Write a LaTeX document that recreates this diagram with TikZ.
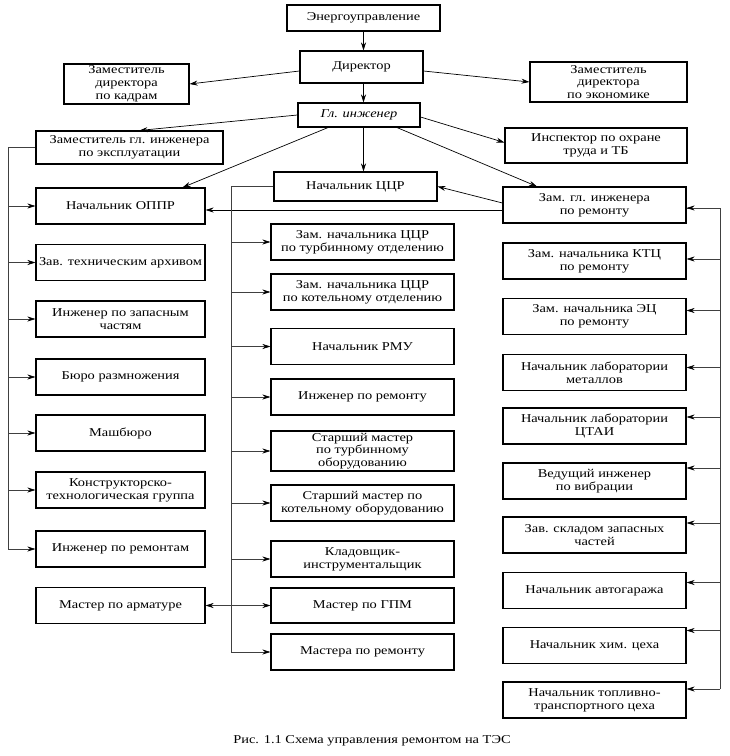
\documentclass[tikz,border=0pt]{standalone}
\usepackage{fontspec}
\setmainfont{Liberation Serif}[FakeStretch=1.2]
\usetikzlibrary{arrows.meta,calc}
\begin{document}
\begin{tikzpicture}[x=1pt,y=-1pt,
  box/.style={draw,line width=1.1pt,inner sep=1pt,align=center,
    font=\fontsize{12}{12.8}\selectfont},
  arr/.style={line width=0.7pt,-{Stealth[length=8pt,width=5pt]}},
  bus/.style={line width=0.6pt,black!75},
  barr/.style={line width=0.6pt,black!75,-{Stealth[length=8pt,width=5pt,black]}}]
\useasboundingbox[fill=white] (0,0) rectangle (730,756);
% top
\node[box,minimum width=153pt,minimum height=26pt] (eu) at (363.5,18) {Энергоуправление};
\node[box,minimum width=123pt,minimum height=32pt] (dir) at (361.5,67) {Директор};
\node[box,minimum width=125pt,minimum height=40pt] (zdk) at (126.5,84) {Заместитель\\директора\\по кадрам};
\node[box,minimum width=157pt,minimum height=40pt] (zde) at (608.5,82) {Заместитель\\директора\\по экономике};
\node[box,minimum width=122pt,minimum height=24pt] (gi) at (359,115) {\itshape Гл. инженер};
\node[box,minimum width=187pt,minimum height=33pt] (zge) at (129.5,147.5) {Заместитель гл. инженера\\по эксплуатации};
\node[box,minimum width=182pt,minimum height=35pt] (insp) at (596,145.5) {Инспектор по охране\\труда и ТБ};
\node[box,minimum width=163pt,minimum height=29pt] (ccr) at (355.5,186.5) {Начальник ЦЦР};
\node[box,minimum width=183pt,minimum height=36pt] (zgr) at (594.5,205) {Зам. гл. инженера\\по ремонту};
% left column
\begin{scope}[every node/.append style={box,minimum width=169pt,minimum height=36pt}]
\node (oppr) at (120.5,206) {Начальник ОППР};
\node (arch) at (120.5,262.5) {Зав. техническим архивом};
\node (zap) at (120.5,319) {Инженер по запасным\\частям};
\node (bur) at (120.5,377) {Бюро размножения};
\node (mash) at (120.5,433) {Машбюро};
\node (kon) at (120.5,490) {Конструкторско-\\технологическая группа};
\node (ir) at (120.5,549) {Инженер по ремонтам};
\node (arm) at (120.5,605.5) {Мастер по арматуре};
\end{scope}
% middle column
\begin{scope}[every node/.append style={box,minimum width=183pt,minimum height=36pt}]
\node (t1) at (362.5,242) {Зам. начальника ЦЦР\\по турбинному отделению};
\node (t2) at (362.5,292) {Зам. начальника ЦЦР\\по котельному отделению};
\node (rmu) at (362.5,346.5) {Начальник РМУ};
\node (ipr) at (362.5,397) {Инженер по ремонту};
\node[minimum height=40pt,font=\fontsize{12}{12.2}\selectfont] (smt) at (362.5,451) {Старший мастер\\по турбинному\\оборудованию};
\node (smk) at (362.5,503) {Старший мастер по\\котельному оборудованию};
\node (klad) at (362.5,559) {Кладовщик-\\инструментальщик};
\node[minimum height=35pt] (gpm) at (362.5,605.5) {Мастер по ГПМ};
\node (mr) at (362.5,652) {Мастера по ремонту};
\end{scope}
% right column
\begin{scope}[every node/.append style={box,minimum width=183pt,minimum height=36pt}]
\node (ktc) at (594.5,261) {Зам. начальника КТЦ\\по ремонту};
\node (ec) at (594.5,316.5) {Зам. начальника ЭЦ\\по ремонту};
\node (lm) at (594.5,372.5) {Начальник лаборатории\\металлов};
\node (ctai) at (594.5,426) {Начальник лаборатории\\ЦТАИ};
\node (ved) at (594.5,481) {Ведущий инженер\\по вибрации};
\node (skl) at (594.5,535) {Зав. складом запасных\\частей};
\node (avto) at (594.5,590.5) {Начальник автогаража};
\node (him) at (594.5,645.5) {Начальник хим. цеха};
\node (topl) at (594.5,700) {Начальник топливно-\\транспортного цеха};
\end{scope}
\node[font=\fontsize{12}{13}\selectfont] (cap) at (372,741) {Рис. 1.1 Схема управления ремонтом на ТЭС};
% top arrows
\draw[arr] (eu.south) -- (eu.south |- dir.north);
\draw[arr] (eu.south |- dir.south) -- (eu.south |- gi.north);
\draw[arr] ([yshift=-4pt]dir.west) -- (zdk.east);
\draw[arr] ([yshift=-4pt]dir.east) -- (zde.west);
\draw[arr] ([yshift=-2pt]gi.east) -- ([yshift=3pt]insp.west);
\draw[arr] (gi.west) -- ([xshift=10pt]zge.north);
\draw[arr] ([xshift=-31pt]gi.south) -- ([xshift=-23pt]oppr.north east);
\draw[arr] (eu.south |- gi.south) -- (eu.south |- ccr.north);
\draw[arr] ([xshift=38pt]gi.south) -- ([xshift=-57.5pt]zgr.north);
\draw[arr] ([yshift=2pt]zgr.west) -- (ccr.east);
\draw[arr] ([yshift=-5pt]zgr.west) -- ([yshift=-5pt]zgr.west -| oppr.east);
% left bus
\coordinate (lb) at (8,147.5);
\draw[bus] (zge.west) -- (lb) -- (lb |- ir.west);
\foreach \n in {oppr,arch,zap,bur,mash,kon,ir}
  \draw[barr] (lb |- \n.west) -- (\n.west);
% middle bus
\coordinate (mb) at (231,186.5);
\draw[bus] (ccr.west) -- (mb) -- (mb |- mr.west);
\foreach \n in {t1,t2,rmu,ipr,smt,smk,klad,gpm,mr}
  \draw[barr] (mb |- \n.west) -- (\n.west);
\draw[barr] (mb |- arm.east) -- (arm.east);
% right bus
\coordinate (rb) at (720,208);
\draw[bus] ([yshift=-3pt]zgr.east) -- (rb) -- ([yshift=11pt]rb |- topl.east);
\draw[barr] (rb) -- ([yshift=-3pt]zgr.east);
\foreach \n/\s in {ktc/2,ec/6,lm/5,ctai/9,ved/13,skl/12,avto/8,him/15,topl/11}
  \draw[barr] ([yshift=\s pt]rb |- \n.east) -- ([yshift=\s pt]\n.east);
\end{tikzpicture}
\end{document}
